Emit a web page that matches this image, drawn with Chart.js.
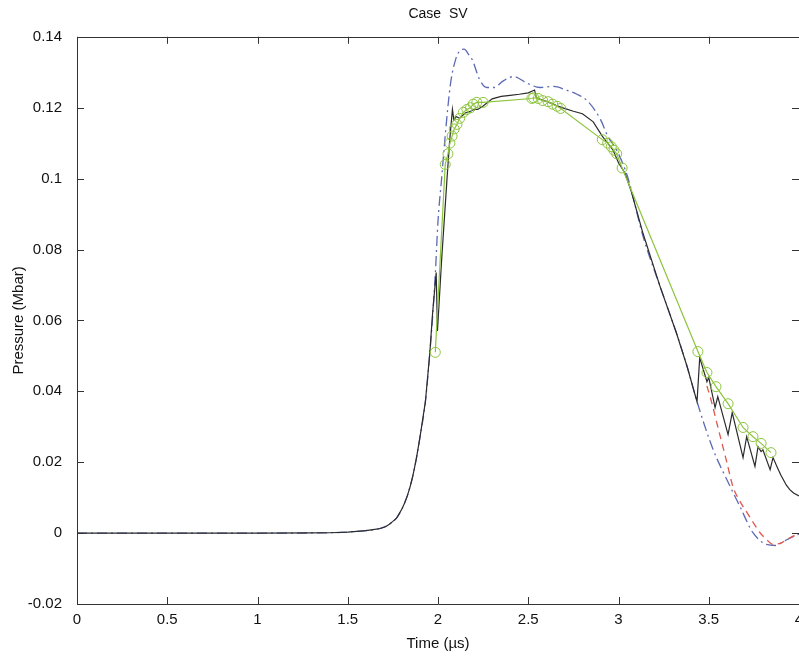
<!DOCTYPE html>
<html>
<head>
<meta charset="utf-8">
<script src="https://cdn.jsdelivr.net/npm/chart.js@4.4.0/dist/chart.umd.min.js"></script>
<style>
   html, body { margin: 0; padding: 0; background: #fff; overflow: hidden; }
   #wrap { position: absolute; left: 0; top: 0; width: 830px; height: 659px; }
</style>
</head>
<body>
<div id="wrap"><canvas id="chart" width="830" height="659"></canvas></div>
<script>
// Graduations des axes
const xTicks = [0, 0.5, 1, 1.5, 2, 2.5, 3, 3.5, 4];
const yTicks = [-0.02, 0, 0.02, 0.04, 0.06, 0.08, 0.1, 0.12, 0.14];

// Courbe noire (trait plein)
const blackT = [0, 1.0, 1.3, 1.4, 1.5, 1.55, 1.6, 1.64, 1.68, 1.71, 1.73, 1.75, 1.77, 1.785, 1.8, 1.815, 1.83, 1.845, 1.86, 1.87,
   1.88, 1.9, 1.915, 1.93, 1.955, 1.97, 1.99, 1.997,
   2.02, 2.05, 2.065, 2.08, 2.088, 2.1, 2.12, 2.15, 2.18, 2.2, 2.22, 2.25, 2.3, 2.35, 2.4, 2.45, 2.5, 2.535, 2.545,
   2.56, 2.6, 2.64, 2.66, 2.7, 2.75, 2.8, 2.86, 2.91, 2.97, 3.0, 3.036, 3.07, 3.136, 3.23, 3.32, 3.38, 3.435, 3.45,
   3.49, 3.5, 3.535, 3.55, 3.607, 3.63, 3.69, 3.71, 3.756, 3.773, 3.79, 3.8, 3.84, 3.856, 3.88, 3.9, 3.93, 3.95, 3.97, 4.0];
const blackP = [0, 0, 0.00005, 0.0001, 0.0003, 0.0005, 0.0007, 0.001, 0.0013, 0.0018, 0.0025, 0.0033, 0.0042, 0.0055, 0.0068, 0.0085, 0.0105, 0.013, 0.016, 0.0185,
   0.021, 0.027, 0.032, 0.037, 0.051, 0.062, 0.0735, 0.057,
   0.077, 0.1, 0.111, 0.1195, 0.1165, 0.1175, 0.117, 0.1185, 0.119, 0.1195, 0.1195, 0.1205, 0.1225, 0.1232, 0.1235, 0.1238, 0.1242, 0.125, 0.1228,
   0.1225, 0.1218, 0.121, 0.1205, 0.1198, 0.119, 0.1183, 0.116, 0.112, 0.108, 0.1045, 0.1015, 0.0965, 0.0845, 0.0696, 0.0566, 0.047, 0.0371, 0.0495,
   0.0427, 0.0439, 0.0354, 0.0385, 0.0278, 0.034, 0.0213, 0.0272, 0.0188, 0.0244, 0.023, 0.0235, 0.0179, 0.0213, 0.0185, 0.0163, 0.0135, 0.0122, 0.0113, 0.0105];

// Courbe bleue (tiret-point)
const blueT = [0, 1.0, 1.4, 1.5, 1.6, 1.68, 1.73, 1.77, 1.8, 1.83, 1.86, 1.88, 1.9, 1.93, 1.955, 1.97, 1.985, 2.0, 2.02, 2.045,
   2.07, 2.1, 2.12, 2.145, 2.17, 2.19, 2.23, 2.27, 2.31, 2.36, 2.42, 2.49, 2.565, 2.64, 2.71, 2.77, 2.83, 2.9, 2.94, 2.99,
   3.05, 3.136, 3.23, 3.32, 3.38, 3.435, 3.524, 3.6, 3.673, 3.745, 3.82, 3.87, 3.91, 3.967, 4.0];
const blueP = [0, 0, 0.0001, 0.0003, 0.0007, 0.0013, 0.0025, 0.0042, 0.0068, 0.0105, 0.016, 0.021, 0.027, 0.037, 0.051, 0.061, 0.073, 0.088, 0.1, 0.115,
   0.127, 0.134, 0.136, 0.1365, 0.135, 0.1335, 0.128, 0.1257, 0.1257, 0.1275, 0.1288, 0.127, 0.1257, 0.126, 0.125, 0.1238, 0.1218, 0.1167, 0.112, 0.108,
   0.1006, 0.0837, 0.0696, 0.0566, 0.047, 0.0371, 0.0236, 0.0151, 0.0075, 0.0001, -0.0032, -0.0035, -0.0025, -0.001, -0.0003];

// Courbe rouge (tirets)
const redT = [3.49, 3.512, 3.55, 3.6, 3.634, 3.67, 3.712, 3.75, 3.784, 3.82, 3.856, 3.9, 3.934, 3.97, 4.0];
const redP = [0.0415, 0.0377, 0.03, 0.02, 0.0131, 0.0092, 0.0058, 0.0027, 0.0001, -0.0018, -0.0032, -0.0028, -0.0018, -0.0008, -0.0004];

// Mesures (cercles verts)
const greenT = [1.985, 2.04, 2.055, 2.066, 2.078, 2.09, 2.105, 2.12, 2.14, 2.16, 2.18, 2.195, 2.215, 2.25,
   2.52, 2.53, 2.555, 2.58, 2.61, 2.635, 2.66, 2.68, 2.91, 2.94, 2.96, 2.975, 2.99, 3.02,
   3.44, 3.49, 3.54, 3.607, 3.69, 3.745, 3.79, 3.845];
const greenP = [0.051, 0.104, 0.107, 0.11, 0.112, 0.114, 0.1153, 0.117, 0.1187, 0.1195, 0.12, 0.121, 0.1215, 0.1215,
   0.1226, 0.1228, 0.1226, 0.122, 0.1217, 0.121, 0.1204, 0.1198, 0.111, 0.11, 0.109, 0.108, 0.107, 0.103,
   0.0512, 0.0453, 0.0413, 0.0365, 0.0298, 0.0272, 0.0253, 0.0227];

const FONT = "'Liberation Sans', Arial, Helvetica, sans-serif";

function toPoints(t, p) {
   return t.map((v, i) => ({ x: v, y: p[i] }));
}

/* Cadre et graduations vers l'intérieur (style Matlab) */
const framePlugin = {
   id: 'frame',
   afterDatasetsDraw(chart) {
      const { ctx, chartArea: a, scales: { x, y } } = chart;
      const len = 7;
      ctx.save();
      ctx.strokeStyle = '#333';
      ctx.lineWidth = 1;
      ctx.beginPath();
      ctx.rect(Math.round(a.left) + 0.5, Math.round(a.top) + 0.5, Math.round(a.right - a.left), Math.round(a.bottom - a.top));
      x.ticks.forEach(t => {
         const px = Math.round(x.getPixelForValue(t.value)) + 0.5;
         ctx.moveTo(px, a.bottom); ctx.lineTo(px, a.bottom - len);
         ctx.moveTo(px, a.top); ctx.lineTo(px, a.top + len);
      });
      y.ticks.forEach(t => {
         const py = Math.round(y.getPixelForValue(t.value)) + 0.5;
         ctx.moveTo(a.left, py); ctx.lineTo(a.left + len, py);
         ctx.moveTo(a.right, py); ctx.lineTo(a.right - len, py);
      });
      ctx.stroke();
      ctx.restore();
   }
};

const ctx = document.getElementById('chart');
const myChart = new Chart(ctx, {
   type: 'scatter',
   data: {
      datasets: [
         {
            label: 'mesures',
            data: toPoints(greenT, greenP),
            showLine: true,
            borderColor: '#8cc43c',
            borderWidth: 1.2,
            pointRadius: 5,
            pointBorderWidth: 1,
            pointBorderColor: '#8cc43c',
            pointBackgroundColor: 'rgba(0,0,0,0)',
            tension: 0
         },
         {
            label: 'noir',
            data: toPoints(blackT, blackP),
            showLine: true,
            borderColor: '#2b2b2b',
            borderWidth: 1.2,
            pointRadius: 0,
            tension: 0
         },
         {
            label: 'rouge',
            data: toPoints(redT, redP),
            showLine: true,
            borderColor: '#e0584f',
            borderWidth: 1.3,
            borderDash: [7, 5],
            pointRadius: 0,
            cubicInterpolationMode: 'monotone'
         },
         {
            label: 'bleu',
            data: toPoints(blueT, blueP),
            showLine: true,
            borderColor: '#5c69b4',
            borderWidth: 1.3,
            borderDash: [10, 4, 2, 4],
            pointRadius: 0,
            cubicInterpolationMode: 'monotone'
         }
      ]
   },
   options: {
      responsive: false,
      animation: false,
      events: [],
      layout: {
         padding: { left: 0, top: 0, right: 31, bottom: 0 }
      },
      scales: {
         x: {
            type: 'linear',
            min: 0,
            max: 4,
            afterBuildTicks: scale => { scale.ticks = xTicks.map(v => ({ value: v })); },
            afterFit: scale => { scale.height = 55; },
            ticks: {
               color: '#111',
               padding: 7,
               maxRotation: 0,
               font: { family: FONT, size: 15 },
               callback: v => String(v)
            },
            grid: { display: false, drawTicks: false },
            border: { display: false },
            title: {
               display: true,
               text: 'Time (µs)',
               color: '#111',
               font: { family: FONT, size: 15 },
               padding: { top: 0, bottom: 6 }
            }
         },
         y: {
            type: 'linear',
            min: -0.02,
            max: 0.14,
            afterBuildTicks: scale => { scale.ticks = yTicks.map(v => ({ value: v })); },
            afterFit: scale => { scale.width = 77; },
            ticks: {
               color: '#111',
               padding: 15,
               font: { family: FONT, size: 15 },
               callback: v => String(v)
            },
            grid: { display: false, drawTicks: false },
            border: { display: false },
            title: {
               display: true,
               text: 'Pressure (Mbar)',
               color: '#111',
               font: { family: FONT, size: 15 },
               padding: { top: 10, bottom: 0 }
            }
         }
      },
      plugins: {
         legend: { display: false },
         tooltip: { enabled: false },
         title: {
            display: true,
            fullSize: false,
            text: 'Case  SV',
            color: '#111',
            font: { family: FONT, size: 14, weight: 'normal' },
            padding: { top: 6, bottom: 14 }
         }
      }
   },
   plugins: [framePlugin]
});
</script>
</body>
</html>
